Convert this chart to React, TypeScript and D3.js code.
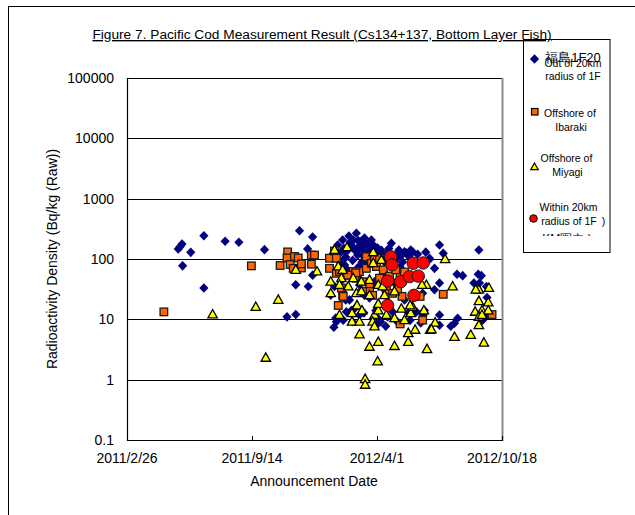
import React from 'react';
import * as d3 from 'd3';

const xTickLabels = ["2011/2/26", "2011/9/14", "2012/4/1", "2012/10/18"];
const yTickValues = [0.1, 1, 10, 100, 1000, 10000, 100000];
const yTickLabels = ["0.1", "1", "10", "100", "1000", "10000", "100000"];

const seriesNames = ["Out of 20km radius of 1F", "Offshore of Ibaraki", "Offshore of Miyagi", "Within 20km radius of 1F"];

// Out of 20km radius of 1F (Fukushima)
const outsideData: [string, number][] = [
  ["2011-05-19",147],["2011-05-22",160],["2011-05-25",177],["2011-05-26",77],["2011-06-08",129],
  ["2011-06-29",243],["2011-06-29",33],["2011-08-02",197],["2011-08-24",189],["2011-10-04",143],
  ["2011-11-09",11],["2011-11-23",12],["2011-11-23",37.5],["2011-11-29",294],["2011-12-12",147],
  ["2011-12-20",232],["2011-12-13",35],["2011-12-20",54],["2012-01-23",7.4],["2012-01-18",25],
  ["2012-02-28",267],["2012-02-23",207],["2012-03-05",194],["2012-02-12",132],["2012-02-10",104],
  ["2012-02-04",132],["2012-02-28",132],["2012-03-15",150],["2012-03-20",160],["2012-03-09",116],
  ["2012-02-01",90],["2012-02-14",66],["2012-01-24",35],["2012-02-17",21],["2012-02-25",15],
  ["2012-02-12",13.3],["2012-03-04",11.8],["2012-02-22",9.1],["2012-01-27",9.1],["2012-04-05",132],
  ["2012-03-20",22.6],["2012-03-31",8.0],["2012-02-20",171],["2012-03-08",191],["2012-03-17",171],
  ["2012-04-02",152],["2012-02-11",108],["2012-03-01",116],["2012-04-18",126],["2012-05-05",108],
  ["2012-05-18",126],["2012-05-28",131],["2012-06-23",96],["2012-02-14",59],["2012-02-27",50],
  ["2012-04-12",61],["2012-05-08",74],["2012-05-15",50],["2012-02-11",21],["2012-02-20",14],
  ["2012-03-11",12.8],["2012-03-30",14],["2012-04-18",11],["2012-02-07",9.7],["2012-01-26",10.5],
  ["2012-06-13",27],["2012-06-16",14],["2012-05-21",12.8],["2012-06-10",8.7],["2012-05-15",21],
  ["2012-04-28",27],["2012-04-24",182],["2012-07-10",171],["2012-09-11",141],["2012-07-16",124],
  ["2012-07-02",70],["2012-08-07",56],["2012-08-16",53],["2012-09-10",56],["2012-09-15",53],
  ["2012-07-10",40],["2012-07-02",31],["2012-09-12",40],["2012-09-23",35],["2012-07-10",11.8],
  ["2012-08-03",8.6],["2012-08-08",10.4],["2012-09-23",11.8],["2012-05-06",141],["2012-05-25",141],
  ["2012-05-15",132],["2012-06-24",103],["2012-04-07",9.1],["2012-04-26",13.3],["2012-06-03",13.3],
  ["2012-06-14",11.8],["2012-07-10",8.0],["2012-07-28",7.7],["2012-09-24",23],["2012-09-17",9.7],
  ["2012-09-03",40],["2012-01-29",171],["2012-02-06",207],["2012-02-17",171],["2012-03-01",152],
  ["2012-03-12",223],["2012-03-23",207],["2012-02-16",240],["2012-03-08",89],["2012-03-17",80],
  ["2012-03-28",104],["2012-04-13",89],["2012-04-29",89],["2012-05-12",89],["2012-02-05",45],
  ["2012-03-04",37],["2012-03-28",42],["2012-04-13",31],["2012-03-12",25],["2012-04-29",40],
  ["2012-04-02",10.5],["2012-04-15",7.7],["2012-05-04",9.0],["2012-05-24",9.7],["2012-03-20",182],
  ["2012-03-07",171],["2012-02-08",150],["2012-02-18",190],["2012-02-24",150],["2012-03-02",200],
  ["2012-03-10",140],["2012-03-14",180],["2012-03-22",130],["2012-03-26",170],["2012-04-08",140],
  ["2012-04-20",150],["2012-05-02",120],["2012-05-10",115],["2012-05-22",110],["2012-06-05",120],
  ["2012-06-18",130],["2012-02-09",80],["2012-02-22",95],["2012-03-03",75],["2012-03-19",110],
  ["2012-04-09",115]
];

// Offshore of Ibaraki
const ibarakiData: [string, number][] = [
  ["2011-04-26",13.3],["2011-09-13",77],["2011-10-29",78],["2011-11-10",131],["2011-11-09",104],
  ["2011-11-21",110],["2011-11-27",104],["2011-11-14",81],["2011-11-19",70],["2011-12-02",71],
  ["2011-12-02",83],["2011-12-18",116],["2011-12-23",116],["2011-12-18",82],["2012-01-16",103],
  ["2012-01-24",136],["2012-01-27",103],["2012-01-16",70],["2012-01-27",58],["2012-02-01",62],
  ["2012-01-30",17],["2012-02-06",25],["2012-02-04",33],["2012-02-12",54],["2012-02-23",62],
  ["2012-02-28",48],["2012-03-04",62],["2012-03-09",42],["2012-03-15",70],["2012-03-15",109],
  ["2012-03-23",85],["2012-03-31",75],["2012-03-28",103],["2012-04-05",103],["2012-03-20",37],
  ["2012-04-05",48],["2012-03-20",29],["2012-03-25",25],["2012-03-09",29],["2012-02-07",24],
  ["2012-02-14",54],["2012-02-27",59],["2012-05-08",51],["2012-05-11",24],["2012-05-08",8.4],
  ["2012-06-13",9.7],["2012-07-16",26],["2012-10-02",12],["2012-06-09",24],["2012-04-16",31],
  ["2012-04-26",27],["2012-04-11",66],["2012-04-21",52],["2012-05-01",66],["2012-05-15",61],
  ["2012-05-04",32]
];

// Offshore of Miyagi
const miyagiData: [string, number][] = [
  ["2011-07-13",12],["2011-09-20",16],["2011-10-06",2.3],["2011-10-26",21],["2011-11-23",66],
  ["2011-12-27",62],["2012-01-24",141],["2012-02-13",156],["2012-01-30",75],["2012-02-06",66],
  ["2012-01-18",42],["2012-02-04",48],["2012-02-15",35],["2012-02-23",48],["2012-03-07",42],
  ["2012-03-20",45],["2012-04-03",37],["2012-01-18",27],["2012-02-01",37],["2012-02-28",27],
  ["2012-03-07",29],["2012-03-20",25],["2012-02-29",17],["2012-03-08",14],["2012-02-01",11.8],
  ["2012-02-21",12.6],["2012-02-21",9.1],["2012-03-04",9.1],["2012-03-28",11.8],["2012-03-25",9.1],
  ["2012-03-28",7.6],["2012-04-03",14],["2012-04-03",18],["2012-03-04",5.6],["2012-03-20",3.5],
  ["2012-04-03",4.2],["2012-03-26",129],["2012-04-02",2.0],["2012-05-21",5.9],["2012-05-21",4.2],
  ["2012-06-25",6.7],["2012-06-20",3.2],["2012-07-19",99],["2012-08-03",5.1],["2012-08-29",5.5],
  ["2012-09-19",4.1],["2012-07-03",8.8],["2012-06-27",6.8],["2012-06-19",37],["2012-07-31",35],
  ["2012-09-11",31],["2012-09-27",33],["2012-09-11",20],["2012-09-26",19],["2012-09-05",13.3],
  ["2012-09-16",14],["2012-09-26",14],["2012-09-11",11],["2012-09-16",11.8],["2012-09-11",8],
  ["2012-09-06",31],["2012-06-01",6.7],["2012-04-29",3.6],["2012-04-13",25],["2012-04-29",29],
  ["2012-04-10",35],["2012-05-10",15],["2012-05-25",12.6],["2012-05-28",16],["2012-05-24",17],
  ["2012-04-29",10.4],["2012-04-16",11.8],["2012-06-12",37],["2012-03-13",1.02],["2012-03-13",0.82],
  ["2012-03-26",85],["2012-04-08",96],["2012-05-15",9.7],["2012-06-15",14]
];

// Within 20km radius of 1F
const withinData: [string, number][] = [
  ["2012-04-23",109],["2012-04-25",80],["2012-04-18",43],["2012-05-09",42],["2012-05-29",85],
  ["2012-06-14",86],["2012-05-23",51],["2012-06-06",52],["2012-05-30",25],["2012-04-18",17]
];

const FONT = "'Liberation Sans', Arial, sans-serif";

const parseDay = d3.utcParse("%Y-%m-%d");
const parseTick = (s: string) => {
  const [y, m, d] = s.split("/").map(Number);
  return new Date(Date.UTC(y, m - 1, d));
};

const diamondPath = "M0,-4.8L4.6,0L0,4.8L-4.6,0Z";
const trianglePath = (s: number) => `M0,${-5 * s}L${4.7 * s},${3.4 * s}L${-4.7 * s},${3.4 * s}Z`;

export default function App() {
  const left = 127, right = 502, top = 78, bottom = 440;
  const tickDates = xTickLabels.map(parseTick);
  const x = d3.scaleUtc().domain([tickDates[0], tickDates[tickDates.length - 1]]).range([left, right]);
  const y = d3.scaleLog().domain([0.1, 100000]).range([bottom, top]);
  const px = (d: [string, number]) => x(parseDay(d[0]) as Date);
  const py = (d: [string, number]) => y(d[1]);

  return (
    <svg width={635} height={515} style={{ position: 'absolute', left: 0, top: 0, background: '#fff' }} fontFamily={FONT}>
      <rect x={0} y={0} width={635} height={515} fill="#fff" />
      <rect x={8.5} y={6.5} width={700} height={600} fill="none" stroke="#000" strokeWidth={1} />

      {/* gridlines */}
      {yTickValues.map((v) => (
        <line key={v} x1={left} x2={right} y1={Math.round(y(v)) + 0.5} y2={Math.round(y(v)) + 0.5} stroke="#000" strokeWidth={1} />
      ))}
      {/* plot border: right gray */}
      <line x1={right + 0.5} x2={right + 0.5} y1={top} y2={bottom + 1} stroke="#8a8a8a" strokeWidth={2} />
      {/* axes */}
      <line x1={left + 0.5} x2={left + 0.5} y1={top} y2={bottom + 1} stroke="#000" strokeWidth={1.2} />
      <line x1={left} x2={right + 1} y1={bottom + 0.5} y2={bottom + 0.5} stroke="#000" strokeWidth={1.2} />
      {tickDates.map((d, i) => (
        <line key={i} x1={Math.round(x(d)) + 0.5} x2={Math.round(x(d)) + 0.5} y1={bottom} y2={bottom - 4} stroke="#000" strokeWidth={1} />
      ))}

      {/* y tick labels */}
      {yTickValues.map((v, i) => (
        <text key={v} x={114} y={y(v) + 5} textAnchor="end" fontSize={14} fill="#000">{yTickLabels[i]}</text>
      ))}
      {/* x tick labels */}
      {tickDates.map((d, i) => (
        <text key={i} x={x(d)} y={463} textAnchor="middle" fontSize={14} fill="#000">{xTickLabels[i]}</text>
      ))}

      {/* axis titles */}
      <text x={314} y={486} textAnchor="middle" fontSize={14} fill="#000">Announcement Date</text>
      <text transform="translate(57,259) rotate(-90)" textAnchor="middle" fontSize={14} fill="#000">Radioactivity Density (Bq/kg (Raw))</text>

      {/* series */}
      <g>
        {outsideData.map((d, i) => (
          <path key={i} d={diamondPath} transform={`translate(${px(d)},${py(d)})`} fill="#000080" />
        ))}
      </g>
      <g>
        {ibarakiData.map((d, i) => (
          <rect key={i} x={px(d) - 3.8} y={py(d) - 3.8} width={7.6} height={7.6} fill="#FF6600" stroke="#1a1a1a" strokeWidth={1.3} />
        ))}
      </g>
      <g>
        {miyagiData.map((d, i) => (
          <path key={i} d={trianglePath(1)} transform={`translate(${px(d)},${py(d)})`} fill="#FFFF00" stroke="#000" strokeWidth={1.3} strokeLinejoin="miter" />
        ))}
      </g>
      <g>
        {withinData.map((d, i) => (
          <circle key={i} cx={px(d)} cy={py(d)} r={6.2} fill="#FF0000" stroke="#1a1a1a" strokeWidth={1} />
        ))}
      </g>

      {/* title */}
      <text x={322} y={39} textAnchor="middle" fontSize={13.7} fill="#000" textDecoration="underline">
        Figure 7. Pacific Cod Measurement Result (Cs134+137, Bottom Layer Fish)
      </text>

      {/* legend */}
      <defs>
        <clipPath id="legClip"><rect x={524} y={40} width={85} height={212} /></clipPath>
        <clipPath id="garbleClip"><rect x={524} y={232} width={85} height={4} /></clipPath>
      </defs>
      <rect x={523.5} y={39.5} width={86.5} height={213} fill="none" stroke="#000" strokeWidth={1} />
      <g clipPath="url(#legClip)" fontSize={10.5} fill="#000" textAnchor="middle">
        <path d={diamondPath} transform="translate(534.5,59)" fill="#000080" />
        <text x={573} y={61.5} fontSize={13} textAnchor="middle">福島1F20</text>
        <text x={573} y={67}>Out of 20km</text>
        <text x={573} y={80}>radius of 1F</text>

        <rect x={531.5} y={108.5} width={6.5} height={6.5} fill="#FF6600" stroke="#000" strokeWidth={1.2} />
        <text x={570} y={116.5}>Offshore of</text>
        <text x={571} y={131}>Ibaraki</text>

        <path d={trianglePath(0.8)} transform="translate(534.5,167)" fill="#FFFF00" stroke="#000" strokeWidth={1.2} />
        <text x={566.5} y={162}>Offshore of</text>
        <text x={567.5} y={176}>Miyagi</text>

        <circle cx={533.5} cy={218.5} r={3.8} fill="#FF0000" stroke="#000" strokeWidth={1} />
        <text x={568.5} y={210.5}>Within 20km</text>
        <text x={569} y={225}>radius of 1F</text>
        <text x={603.5} y={225}>)</text>
      </g>
      <text x={567} y={243} fontSize={12} textAnchor="middle" clipPath="url(#garbleClip)" fill="#000">KM圏内 )</text>
    </svg>
  );
}
